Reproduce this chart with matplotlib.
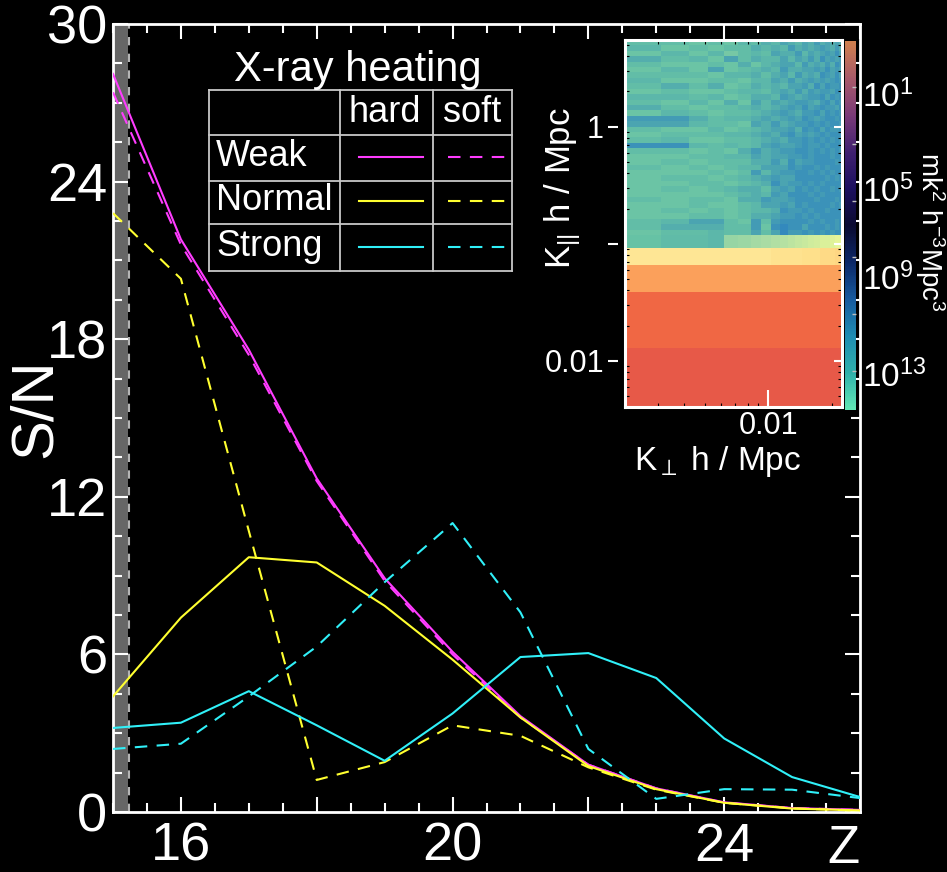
import numpy as np
import matplotlib
matplotlib.use("Agg")
from matplotlib import pyplot as plt
from matplotlib.lines import Line2D
from matplotlib.colors import LinearSegmentedColormap, Normalize
from matplotlib.cm import ScalarMappable
from matplotlib.ticker import MultipleLocator, FuncFormatter, NullLocator

plt.rcParams["font.family"] = ["Liberation Sans", "DejaVu Sans"]
plt.rcParams["mathtext.fontset"] = "custom"
plt.rcParams["mathtext.rm"] = "Liberation Sans"
plt.rcParams["mathtext.it"] = "Liberation Sans:italic"

# S/N against redshift for the three X-ray heating levels
z = [15, 16, 17, 18, 19, 20, 21, 22, 23, 24, 25, 26]
weak_hard = [28.1, 21.8, 17.6, 12.7, 8.9, 6.1, 3.65, 1.8, 0.9, 0.37, 0.15, 0.08]
weak_soft = [27.4, 21.6, 17.4, 12.6, 8.8, 6.0, 3.6, 1.8, 0.9, 0.36, 0.15, 0.08]
normal_hard = [4.4, 7.4, 9.7, 9.5, 7.85, 5.8, 3.6, 1.75, 0.87, 0.35, 0.13, 0.06]
normal_soft = [22.8, 20.3, 10.7, 1.22, 1.9, 3.3, 2.9, 1.7, 0.85, 0.35, 0.14, 0.05]
strong_hard = [3.2, 3.4, 4.6, 3.3, 1.95, 3.75, 5.9, 6.05, 5.1, 2.8, 1.33, 0.57]
strong_soft = [2.4, 2.6, 4.4, 6.3, 8.75, 11.0, 7.6, 2.4, 0.5, 0.87, 0.85, 0.53]

levels = ["Weak", "Normal", "Strong"]
colors = ["#ff3cff", "#ffff30", "#30f0f8"]
hard = [weak_hard, normal_hard, strong_hard]
soft = [weak_soft, normal_soft, strong_soft]

# inset power spectrum (Spectral colour scale, 0..1)
kperp_edges = [0.0021, 0.0031, 0.0042, 0.0052, 0.0062, 0.0072, 0.0083, 0.0093,
               0.0103, 0.0114, 0.0124, 0.0134, 0.0145, 0.0155, 0.0165, 0.0176,
               0.0186, 0.0196, 0.0207, 0.0217, 0.0224]
kpar_band_edges = [0.00404, 0.0129, 0.0389, 0.0662, 0.0925, 0.119]
band_rows = [
    [0.16] * 20,
    [0.19] * 20,
    [0.28] * 20,
    [0.42, 0.42, 0.42, 0.42, 0.42, 0.42, 0.42, 0.42, 0.41, 0.41,
     0.41, 0.41, 0.40, 0.40, 0.40, 0.39, 0.39, 0.39, 0.38, 0.38],
    [0.80, 0.81, 0.81, 0.82, 0.73, 0.72, 0.71, 0.70, 0.69, 0.68,
     0.67, 0.66, 0.65, 0.64, 0.63, 0.62, 0.62, 0.61, 0.60, 0.60],
]
# upper noisy block, top row first; digit d -> 0.76 + 0.015 d
noise_rows = [
    "33232435465465756565", "42323354547565676575", "24241343655746567686",
    "53426354464657586767", "32232524566475657587", "24262345475566768676",
    "33324453564756587686", "42233244657567676787", "35352354546675868778",
    "23223443565757677687", "44342355476567786878", "32425264656776578687",
    "53233454567686787768", "24323345676577868787", "77534456567687678878",
    "66433265756778787887", "32242345667587868778", "23334456578676787888",
    "34223345657787878787", "88434346766787787888", "33232575677887878787",
    "22334465667787888788", "23233355758677888878", "32323446668788787888",
    "22232374677887878788", "23323456766888887878", "22332345867787878888",
    "23234553676878788787", "22223454768887878888", "32332557667888788878",
    "22322346676878888787", "23232344587787887888", "22332355677878788888",
    "34663273788887878878", "35553372898868887878", "23343363697787878788",
]
kpar_top = 5.5

cbar_colors = ["#62e6b4", "#2fb0ab", "#1f8cb2", "#175a9e", "#0c2868", "#0a0a30",
               "#1c1060", "#402070", "#7a3a78", "#a85a6a", "#d0804f"]

W, H = 947, 872


def fx(px):
    return px / W


def fy(py):
    return 1 - py / H


fig = plt.figure(figsize=(W / 100, H / 100), dpi=100, facecolor="black")

# ---- main panel
ax = fig.add_axes([fx(113), fy(812), 747 / W, 788 / H], facecolor="black")
ax.axvspan(15, 15.22, color="#666666", zorder=1, lw=0)
ax.axvline(15.23, color="#b4b4b4", ls=(0, (4, 4)), lw=1.5, zorder=1)
for c, h, s in zip(colors, hard, soft):
    ax.plot(z, h, color=c, lw=1.5, zorder=3)
    ax.plot(z, s, color=c, lw=1.5, ls=(0, (6, 4.5)), zorder=3)

ax.set_xlim(15, 26)
ax.set_ylim(0, 30)
ax.xaxis.set_major_locator(MultipleLocator(2))
ax.xaxis.set_minor_locator(MultipleLocator(0.5))
ax.yaxis.set_major_locator(MultipleLocator(6))
ax.yaxis.set_minor_locator(MultipleLocator(1.5))
ax.xaxis.set_major_formatter(FuncFormatter(lambda v, p: f"{v:.0f}" if v in (16, 20, 24) else ""))
ax.tick_params(which="both", direction="in", colors="white", top=True, right=True,
               labelsize=39, width=1.5)
ax.tick_params(axis="x", pad=7)
ax.tick_params(axis="y", pad=4)
ax.tick_params(which="major", length=11)
ax.tick_params(which="minor", length=6.5)
for sp in ax.spines.values():
    sp.set_color("white")
    sp.set_linewidth(2)
ax.set_ylabel("S/N", color="white", fontsize=43, va="center")
ax.yaxis.set_label_coords((35 - 113) / 747, (812 - 408) / 788)
ax.text(25.75, -0.047, "Z", transform=ax.get_xaxis_transform(), color="white",
        fontsize=38, ha="center", va="center")

# ---- legend table
fig.text(fx(358), fy(70), "X-ray heating", color="white", fontsize=30, ha="center", va="center")
grid_kw = dict(transform=fig.transFigure, color="#c8c8c8", lw=1.3)
for yy in [90, 135, 181, 224, 271]:
    fig.add_artist(Line2D([fx(209), fx(512)], [fy(yy), fy(yy)], **grid_kw))
for xx in [209, 340, 433, 512]:
    fig.add_artist(Line2D([fx(xx), fx(xx)], [fy(90), fy(271)], **grid_kw))
fig.text(fx(385), fy(113), "hard", color="white", fontsize=26, ha="center", va="center")
fig.text(fx(472), fy(113), "soft", color="white", fontsize=26, ha="center", va="center")
for lab, c, yy in zip(levels, colors, [157, 201, 247]):
    fig.text(fx(216), fy(yy), lab, color="white", fontsize=26, ha="left", va="center")
    fig.add_artist(Line2D([fx(359), fx(423)], [fy(yy), fy(yy)], transform=fig.transFigure,
                          color=c, lw=1.5))
    fig.add_artist(Line2D([fx(448), fx(510)], [fy(yy), fy(yy)], transform=fig.transFigure,
                          color=c, lw=1.5, ls=(0, (6, 4.5))))

# ---- inset power spectrum
noise = np.array([[int(ch) for ch in row] for row in noise_rows])[::-1] * 0.015 + 0.76
values = np.vstack([np.array(band_rows), noise])
kpar_edges = np.concatenate([kpar_band_edges[:-1],
                             np.geomspace(kpar_band_edges[-1], kpar_top, len(noise_rows) + 1)])

axi = fig.add_axes([fx(625), fy(407), 217 / W, 367 / H])
axi.pcolormesh(kperp_edges, kpar_edges, values, cmap="Spectral", vmin=0, vmax=1, shading="flat")
axi.set_xscale("log")
axi.set_yscale("log")
axi.set_xlim(kperp_edges[0], kperp_edges[-1])
axi.set_ylim(kpar_edges[0], kpar_edges[-1])
for sp in axi.spines.values():
    sp.set_color("white")
    sp.set_linewidth(2.2)
axi.set_xticks([0.01], labels=["0.01"])
axi.set_yticks([0.01, 0.1, 1], labels=["", "", ""])
axi.tick_params(which="minor", direction="in", color="black", length=3, width=0.8,
                top=True, right=True, left=True, bottom=True)
axi.tick_params(axis="x", which="major", direction="in", color="white", length=12, width=1.5,
                labelcolor="white", labelsize=22, pad=3)
axi.tick_params(axis="y", which="major", direction="in", color="white", length=6, width=1.5,
                left=False, right=True, labelleft=False)
sec = axi.secondary_yaxis((618 - 625) / 217)
sec.set_yticks([0.01, 0.1, 1], labels=["0.01", "", "1"])
sec.yaxis.set_minor_locator(NullLocator())
sec.tick_params(direction="out", color="white", length=7, width=1.5, labelcolor="white",
                labelsize=22, pad=3)
sec.spines["left"].set_visible(False)

fig.text(fx(563), fy(188), r"$\mathregular{K_{||}}$ h / Mpc", color="white", fontsize=25,
         rotation=90, ha="center", va="center")
fig.text(fx(718), fy(461), r"$\mathregular{K_{\perp}}$ h / Mpc", color="white", fontsize=24,
         ha="center", va="center")

# ---- colour bar
cmap_cb = LinearSegmentedColormap.from_list("cb", cbar_colors)
cax = fig.add_axes([fx(845), fy(410), 11 / W, 369 / H])
cb = fig.colorbar(ScalarMappable(norm=Normalize(0, 1), cmap=cmap_cb), cax=cax)
cb.outline.set_visible(False)
cax.set_yticks([0.106, 0.260, 0.415, 0.566, 0.721, 0.875], labels=[""] * 6)
cax.tick_params(direction="in", color="#c0c0c0", length=3, width=1)
for txt, yy in zip([r"$\mathregular{10^{1}}$", r"$\mathregular{10^{5}}$",
                    r"$\mathregular{10^{9}}$", r"$\mathregular{10^{13}}$"], [97, 192, 280, 377]):
    fig.text(fx(862), fy(yy), txt, color="white", fontsize=24, ha="left", va="center")
fig.text(fx(930), fy(232), r"$\mathregular{mk^2\ h^{-3}Mpc^3}$", color="white", fontsize=20,
         rotation=270, ha="center", va="center")

fig.savefig("out.png", dpi=100, facecolor="black")
